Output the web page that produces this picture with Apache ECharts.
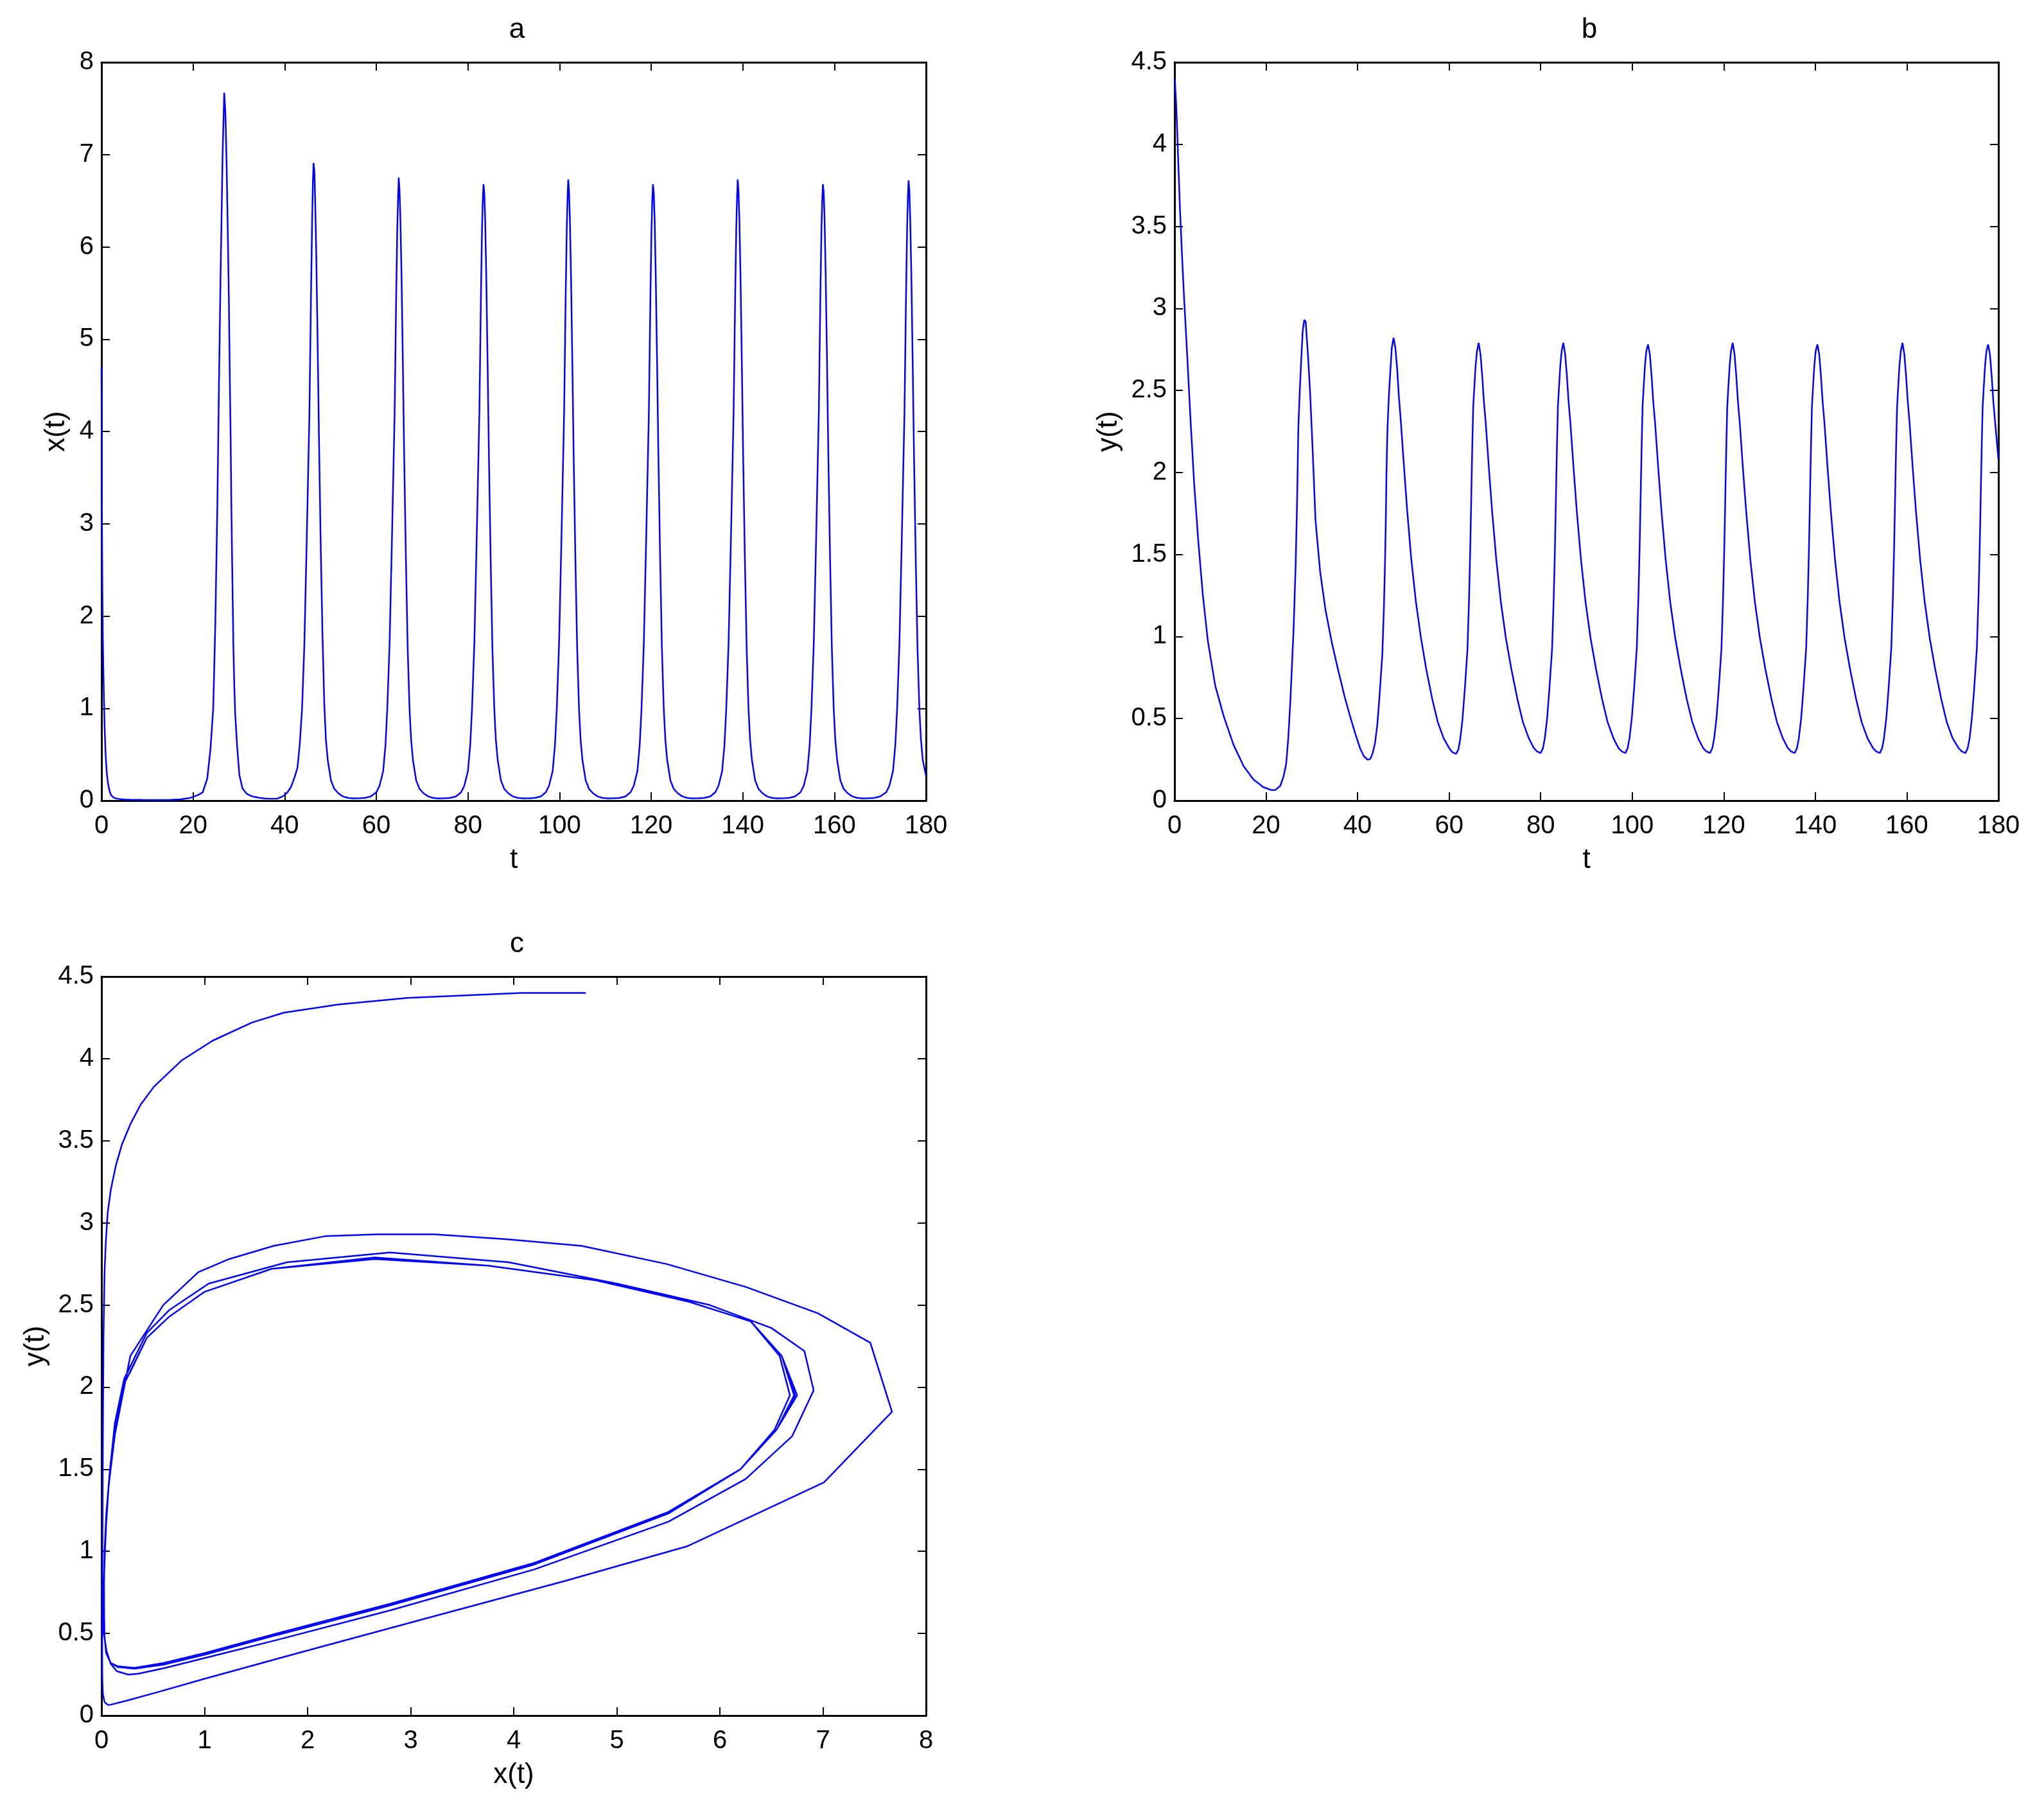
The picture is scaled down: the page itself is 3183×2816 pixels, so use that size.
<!DOCTYPE html>
<html>
<head>
<meta charset="utf-8">
<script src="https://cdn.jsdelivr.net/npm/echarts@6/dist/echarts.min.js"></script>
<style>
html,body{margin:0;padding:0;background:#fff;}
#chart{width:3183px;height:2816px;}
</style>
</head>
<body>
<div id="chart"></div>
<script>
// time samples (shared by x(t) and y(t)), one line per oscillation cycle
const T = [
  0, 0.05, 0.12, 0.2, 0.3, 0.4, 0.55, 0.7, 0.9, 1.05, 1.2, 1.4, 1.6, 1.85, 2.1, 2.45, 2.8, 3.5, 4.3, 5.2, 6.2, 7.3, 8.9, 10.8, 12.9, 15.1, 17.2, 19.4, 21.2, 22.1, 23.1, 23.8, 24.4, 24.85, 25.3, 25.65, 26.0, 26.45, 26.8, 27.05, 27.3, 27.55, 27.8, 28.0, 28.2, 28.35, 28.5, 28.65, 28.8, 29.0, 29.2, 29.6, 30.1, 30.8,
  31.8, 33.0, 34.4, 35.8, 37.2, 38.5, 39.7, 40.6, 41.4, 42.2, 42.8, 43.3, 43.8, 44.3, 44.8, 45.4, 45.75, 45.98, 46.16, 46.3, 46.48, 46.66, 46.9, 47.18, 47.48, 47.85, 48.25, 48.65, 49.0, 49.4, 50.1, 50.8, 51.7, 52.7, 53.8, 55.0, 56.3, 57.5, 58.8,
  60.0, 60.7, 61.5, 62.0, 62.4, 62.9, 63.4, 64.0, 64.35, 64.58, 64.76, 64.9, 65.08, 65.26, 65.5, 65.78, 66.08, 66.45, 66.85, 67.25, 67.6, 68.0, 68.7, 69.4, 70.3, 71.3, 72.4, 73.6, 74.9, 76.1, 77.4,
  78.5, 79.2, 80.0, 80.5, 80.9, 81.4, 81.9, 82.5, 82.85, 83.08, 83.26, 83.4, 83.58, 83.76, 84.0, 84.28, 84.58, 84.95, 85.35, 85.75, 86.1, 86.5, 87.2, 87.9, 88.8, 89.8, 90.9, 92.1, 93.4, 94.6, 95.9,
  97.0, 97.7, 98.5, 99.0, 99.4, 99.9, 100.4, 101.0, 101.35, 101.58, 101.76, 101.9, 102.08, 102.26, 102.5, 102.78, 103.08, 103.45, 103.85, 104.25, 104.6, 105.0, 105.7, 106.4, 107.3, 108.3, 109.4, 110.6, 111.9, 113.1, 114.4,
  115.5, 116.2, 117.0, 117.5, 117.9, 118.4, 118.9, 119.5, 119.85, 120.08, 120.26, 120.4, 120.58, 120.76, 121.0, 121.28, 121.58, 121.95, 122.35, 122.75, 123.1, 123.5, 124.2, 124.9, 125.8, 126.8, 127.9, 129.1, 130.4, 131.6, 132.9,
  134.0, 134.7, 135.5, 136.0, 136.4, 136.9, 137.4, 138.0, 138.35, 138.58, 138.76, 138.9, 139.08, 139.26, 139.5, 139.78, 140.08, 140.45, 140.85, 141.25, 141.6, 142.0, 142.7, 143.4, 144.3, 145.3, 146.4, 147.6, 148.9, 150.1, 151.4,
  152.6, 153.3, 154.1, 154.6, 155.0, 155.5, 156.0, 156.6, 156.95, 157.18, 157.36, 157.5, 157.68, 157.86, 158.1, 158.38, 158.68, 159.05, 159.45, 159.85, 160.2, 160.6, 161.3, 162.0, 162.9, 163.9, 165.0, 166.2, 167.5, 168.7, 170.0,
  171.3, 172.0, 172.8, 173.3, 173.7, 174.2, 174.7, 175.3, 175.65, 175.88, 176.06, 176.2, 176.38, 176.56, 176.8, 177.08, 177.38, 177.75, 178.15, 178.55, 178.9, 179.3, 180.0
];
// x(t)
const X = [
  4.70, 4.08, 2.97, 2.30, 1.77, 1.46, 1.08, 0.78, 0.51, 0.38, 0.28, 0.20, 0.14, 0.09, 0.06, 0.042, 0.03, 0.02, 0.016, 0.013, 0.011, 0.009, 0.008, 0.007, 0.007, 0.009, 0.014, 0.03, 0.064, 0.09, 0.24, 0.56, 1.0, 1.9, 3.2, 4.5, 5.68, 7.01, 7.67, 7.46, 6.95, 6.25, 5.48, 4.66, 3.94, 3.23, 2.68, 2.18, 1.67, 1.24, 0.94, 0.6, 0.28, 0.13,
  0.07, 0.045, 0.032, 0.022, 0.02, 0.023, 0.05, 0.09, 0.15, 0.26, 0.36, 0.62, 1.0, 1.7, 2.8, 4.2, 5.5, 6.25, 6.7, 6.91, 6.82, 6.5, 5.9, 5.0, 3.95, 2.8, 1.8, 1.04, 0.66, 0.44, 0.22, 0.13, 0.08, 0.046, 0.03, 0.025, 0.026, 0.03, 0.045,
  0.09, 0.16, 0.32, 0.6, 1.0, 1.7, 2.8, 4.2, 5.5, 6.2, 6.55, 6.75, 6.6, 6.3, 5.7, 4.8, 3.75, 2.65, 1.65, 1.0, 0.66, 0.44, 0.22, 0.13, 0.08, 0.046, 0.03, 0.025, 0.026, 0.03, 0.045,
  0.09, 0.16, 0.32, 0.6, 1.0, 1.7, 2.8, 4.2, 5.5, 6.2, 6.53, 6.68, 6.58, 6.3, 5.7, 4.8, 3.75, 2.65, 1.65, 1.0, 0.66, 0.44, 0.22, 0.13, 0.08, 0.046, 0.03, 0.025, 0.026, 0.03, 0.045,
  0.09, 0.16, 0.32, 0.6, 1.0, 1.7, 2.8, 4.2, 5.5, 6.2, 6.55, 6.73, 6.6, 6.3, 5.7, 4.8, 3.75, 2.65, 1.65, 1.0, 0.66, 0.44, 0.22, 0.13, 0.08, 0.046, 0.03, 0.025, 0.026, 0.03, 0.045,
  0.09, 0.16, 0.32, 0.6, 1.0, 1.7, 2.8, 4.2, 5.5, 6.2, 6.53, 6.68, 6.58, 6.3, 5.7, 4.8, 3.75, 2.65, 1.65, 1.0, 0.66, 0.44, 0.22, 0.13, 0.08, 0.046, 0.03, 0.025, 0.026, 0.03, 0.045,
  0.09, 0.16, 0.32, 0.6, 1.0, 1.7, 2.8, 4.2, 5.5, 6.2, 6.55, 6.73, 6.6, 6.3, 5.7, 4.8, 3.75, 2.65, 1.65, 1.0, 0.66, 0.44, 0.22, 0.13, 0.08, 0.046, 0.03, 0.025, 0.026, 0.03, 0.045,
  0.09, 0.16, 0.32, 0.6, 1.0, 1.7, 2.8, 4.2, 5.5, 6.2, 6.53, 6.68, 6.58, 6.3, 5.7, 4.8, 3.75, 2.65, 1.65, 1.0, 0.66, 0.44, 0.22, 0.13, 0.08, 0.046, 0.03, 0.025, 0.026, 0.03, 0.045,
  0.09, 0.16, 0.32, 0.6, 1.0, 1.7, 2.8, 4.2, 5.5, 6.2, 6.55, 6.72, 6.6, 6.3, 5.7, 4.8, 3.75, 2.65, 1.65, 1.0, 0.66, 0.44, 0.27
];
// y(t)
const Y = [
  4.40, 4.40, 4.37, 4.33, 4.28, 4.22, 4.11, 3.99, 3.83, 3.72, 3.60, 3.48, 3.35, 3.20, 3.06, 2.88, 2.70, 2.32, 1.93, 1.58, 1.25, 0.97, 0.70, 0.51, 0.34, 0.21, 0.13, 0.082, 0.064, 0.066, 0.09, 0.145, 0.224, 0.379, 0.60, 0.82, 1.03, 1.42, 1.85, 2.27, 2.45, 2.61, 2.75, 2.86, 2.90, 2.93, 2.93, 2.92, 2.86, 2.78, 2.70, 2.50, 2.19, 1.71,
  1.40, 1.16, 0.96, 0.79, 0.63, 0.50, 0.39, 0.315, 0.27, 0.249, 0.255, 0.29, 0.35, 0.46, 0.64, 0.89, 1.18, 1.44, 1.70, 1.98, 2.22, 2.36, 2.50, 2.63, 2.76, 2.82, 2.76, 2.63, 2.47, 2.33, 2.05, 1.78, 1.48, 1.22, 1.0, 0.80, 0.62, 0.48, 0.38,
  0.32, 0.295, 0.285, 0.31, 0.37, 0.49, 0.67, 0.92, 1.23, 1.50, 1.74, 1.95, 2.19, 2.40, 2.52, 2.65, 2.74, 2.79, 2.72, 2.58, 2.43, 2.30, 2.02, 1.76, 1.47, 1.21, 0.99, 0.80, 0.62, 0.48, 0.38,
  0.32, 0.30, 0.29, 0.32, 0.38, 0.50, 0.68, 0.93, 1.24, 1.50, 1.74, 1.95, 2.19, 2.40, 2.52, 2.65, 2.74, 2.79, 2.72, 2.58, 2.43, 2.30, 2.02, 1.76, 1.47, 1.21, 0.99, 0.80, 0.62, 0.48, 0.38,
  0.32, 0.30, 0.29, 0.32, 0.38, 0.50, 0.68, 0.93, 1.24, 1.50, 1.74, 1.95, 2.19, 2.40, 2.52, 2.65, 2.74, 2.78, 2.72, 2.58, 2.43, 2.30, 2.02, 1.76, 1.47, 1.21, 0.99, 0.80, 0.62, 0.48, 0.38,
  0.32, 0.30, 0.29, 0.32, 0.38, 0.50, 0.68, 0.93, 1.24, 1.50, 1.74, 1.95, 2.19, 2.40, 2.52, 2.65, 2.74, 2.79, 2.72, 2.58, 2.43, 2.30, 2.02, 1.76, 1.47, 1.21, 0.99, 0.80, 0.62, 0.48, 0.38,
  0.32, 0.30, 0.29, 0.32, 0.38, 0.50, 0.68, 0.93, 1.24, 1.50, 1.74, 1.95, 2.19, 2.40, 2.52, 2.65, 2.74, 2.78, 2.72, 2.58, 2.43, 2.30, 2.02, 1.76, 1.47, 1.21, 0.99, 0.80, 0.62, 0.48, 0.38,
  0.32, 0.30, 0.29, 0.32, 0.38, 0.50, 0.68, 0.93, 1.24, 1.50, 1.74, 1.95, 2.19, 2.40, 2.52, 2.65, 2.74, 2.79, 2.72, 2.58, 2.43, 2.30, 2.02, 1.76, 1.47, 1.21, 0.99, 0.80, 0.62, 0.48, 0.38,
  0.32, 0.30, 0.29, 0.32, 0.38, 0.50, 0.68, 0.93, 1.24, 1.50, 1.74, 1.95, 2.19, 2.40, 2.52, 2.65, 2.74, 2.78, 2.72, 2.58, 2.43, 2.30, 2.08
];
const panelTitles = ['a', 'b', 'c'];
const axisNames = { aX: 't', aY: 'x(t)', bX: 't', bY: 'y(t)', cX: 'x(t)', cY: 'y(t)' };

const n = Math.min(T.length, X.length, Y.length);
const dataA = [], dataB = [], dataC = [];
for (let i = 0; i < n; i++) {
  dataA.push([T[i], X[i]]);
  dataB.push([T[i], Y[i]]);
  dataC.push([X[i], Y[i]]);
}

const FONT = 'Liberation Sans, Arial, Helvetica, sans-serif';
const TICK_FS = 40, NAME_FS = 44;
const lineAx = { onZero: false, lineStyle: { color: '#000', width: 3 } };
const tickAx = { inside: true, length: 13, lineStyle: { color: '#000', width: 2 } };

function xAx(g, min, max, interval, name) {
  return [{
    gridIndex: g, type: 'value', position: 'bottom', min, max, interval,
    axisLine: lineAx, axisTick: tickAx, splitLine: { show: false },
    axisLabel: { margin: 20, fontSize: TICK_FS, fontFamily: FONT, color: '#000', showMinLabel: true, showMaxLabel: true },
    name, nameLocation: 'middle', nameGap: 71,
    nameTextStyle: { fontSize: NAME_FS, fontFamily: FONT, color: '#000' }
  }, {
    gridIndex: g, type: 'value', position: 'top', min, max, interval,
    axisLine: lineAx, axisTick: tickAx, splitLine: { show: false }, axisLabel: { show: false }
  }];
}
function yAx(g, min, max, interval, name, gap) {
  return [{
    gridIndex: g, type: 'value', position: 'left', min, max, interval,
    axisLine: lineAx, axisTick: tickAx, splitLine: { show: false },
    axisLabel: { margin: 12, fontSize: TICK_FS, fontFamily: FONT, color: '#000', showMinLabel: true, showMaxLabel: true },
    name, nameLocation: 'middle', nameGap: gap,
    nameTextStyle: { fontSize: NAME_FS, fontFamily: FONT, color: '#000' }
  }, {
    gridIndex: g, type: 'value', position: 'right', min, max, interval,
    axisLine: lineAx, axisTick: tickAx, splitLine: { show: false }, axisLabel: { show: false }
  }];
}
function series(xi, yi, data) {
  return { type: 'line', xAxisIndex: xi, yAxisIndex: yi, data, showSymbol: false, symbol: 'none',
    lineStyle: { color: '#0000ff', width: 2.5 }, itemStyle: { color: '#0000ff' }, clip: true };
}
const titleStyle = { fontSize: NAME_FS, fontWeight: 'normal', fontFamily: FONT, color: '#000' };

const option = {
  animation: false,
  backgroundColor: '#fff',
  title: [
    { text: panelTitles[0], left: 800, top: 20, textAlign: 'center', textStyle: titleStyle },
    { text: panelTitles[1], left: 2470, top: 20, textAlign: 'center', textStyle: titleStyle },
    { text: panelTitles[2], left: 800, top: 1444, textAlign: 'center', textStyle: titleStyle }
  ],
  grid: [
    { left: 158, top: 97, width: 1284, height: 1150 },
    { left: 1829, top: 97, width: 1283, height: 1150 },
    { left: 158, top: 1521, width: 1284, height: 1151 }
  ],
  xAxis: [].concat(
    xAx(0, 0, 180, 20, axisNames.aX),
    xAx(1, 0, 180, 20, axisNames.bX),
    xAx(2, 0, 8, 1, axisNames.cX)
  ),
  yAxis: [].concat(
    yAx(0, 0, 8, 1, axisNames.aY, 48),
    yAx(1, 0, 4.5, 0.5, axisNames.bY, 80),
    yAx(2, 0, 4.5, 0.5, axisNames.cY, 80)
  ),
  series: [
    series(0, 0, dataA),
    series(2, 2, dataB),
    series(4, 4, dataC)
  ]
};
const chart = echarts.init(document.getElementById('chart'), null, { renderer: 'canvas' });
chart.setOption(option);
</script>
</body>
</html>
